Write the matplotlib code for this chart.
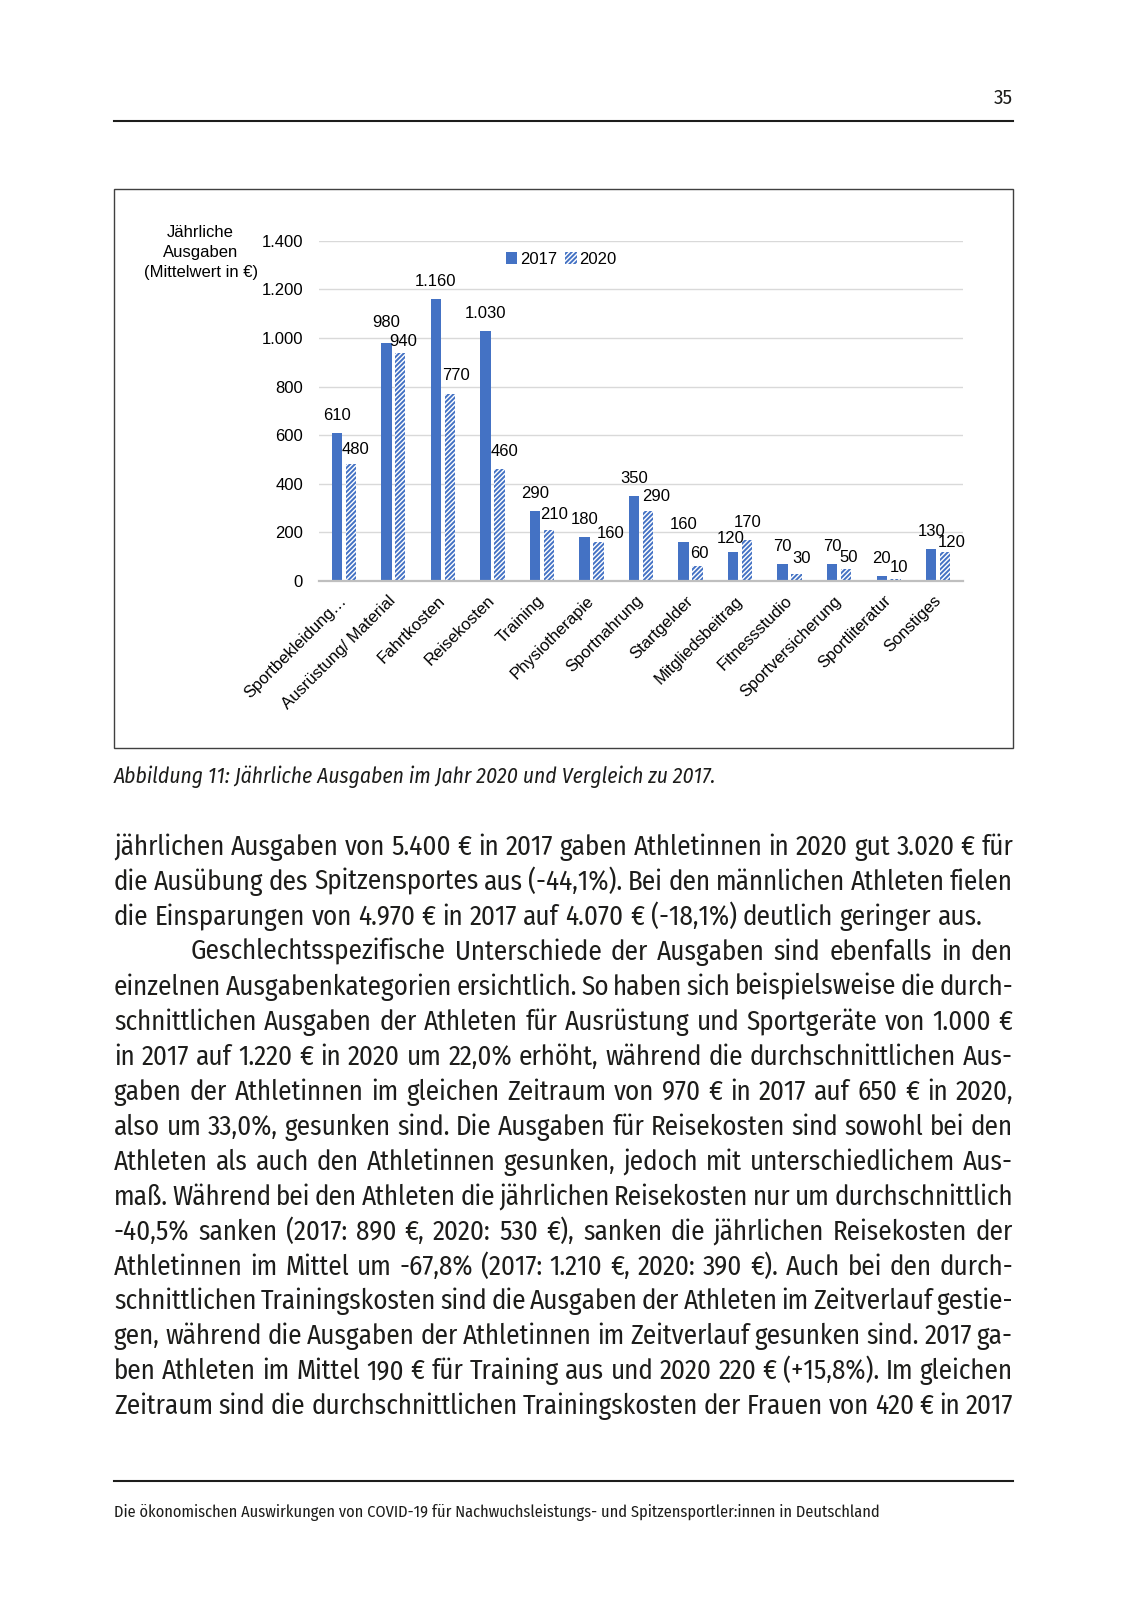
import matplotlib
matplotlib.use('Agg')
import matplotlib.pyplot as plt
import matplotlib.font_manager as fm
from matplotlib.patches import Rectangle, Patch
from matplotlib.lines import Line2D
import numpy as np

# --- data -------------------------------------------------------------
categories = ['Sportbekleidung…', 'Ausrüstung/ Material', 'Fahrtkosten', 'Reisekosten',
              'Training', 'Physiotherapie', 'Sportnahrung', 'Startgelder',
              'Mitgliedsbeitrag', 'Fitnessstudio', 'Sportversicherung',
              'Sportliteratur', 'Sonstiges']
v2017 = [610, 980, 1160, 1030, 290, 180, 350, 160, 120, 70, 70, 20, 130]
v2020 = [480, 940, 770, 460, 210, 160, 290, 60, 170, 30, 50, 10, 120]
yticks = [0, 200, 400, 600, 800, 1000, 1200, 1400]
series_names = ['2017', '2020']
ytitle = 'Jährliche\nAusgaben\n(Mittelwert in €)'

page_no = '35'
caption = 'Abbildung 11: Jährliche Ausgaben im Jahr 2020 und Vergleich zu 2017.'
footer = ('Die ökonomischen Auswirkungen von COVID-19 für Nachwuchsleistungs- '
          'und Spitzensportler:innen in Deutschland')
body = [
    'jährlichen Ausgaben von 5.400 € in 2017 gaben Athletinnen in 2020 gut 3.020 € für',
    'die Ausübung des Spitzensportes aus (-44,1%). Bei den männlichen Athleten fielen',
    'die Einsparungen von 4.970 € in 2017 auf 4.070 € (-18,1%) deutlich geringer aus.',
    'Geschlechtsspezifische Unterschiede der Ausgaben sind ebenfalls in den',
    'einzelnen Ausgabenkategorien ersichtlich. So haben sich beispielsweise die durch-',
    'schnittlichen Ausgaben der Athleten für Ausrüstung und Sportgeräte von 1.000 €',
    'in 2017 auf 1.220 € in 2020 um 22,0% erhöht, während die durchschnittlichen Aus-',
    'gaben der Athletinnen im gleichen Zeitraum von 970 € in 2017 auf 650 € in 2020,',
    'also um 33,0%, gesunken sind. Die Ausgaben für Reisekosten sind sowohl bei den',
    'Athleten als auch den Athletinnen gesunken, jedoch mit unterschiedlichem Aus-',
    'maß. Während bei den Athleten die jährlichen Reisekosten nur um durchschnittlich',
    '-40,5% sanken (2017: 890 €, 2020: 530 €), sanken die jährlichen Reisekosten der',
    'Athletinnen im Mittel um -67,8% (2017: 1.210 €, 2020: 390 €). Auch bei den durch-',
    'schnittlichen Trainingskosten sind die Ausgaben der Athleten im Zeitverlauf gestie-',
    'gen, während die Ausgaben der Athletinnen im Zeitverlauf gesunken sind. 2017 ga-',
    'ben Athleten im Mittel 190 € für Training aus und 2020 220 € (+15,8%). Im gleichen',
    'Zeitraum sind die durchschnittlichen Trainingskosten der Frauen von 420 € in 2017',
]
par_end = {2}        # last line of a paragraph -> not justified
par_start = {3}      # first line of a paragraph -> indented

# --- page setup -------------------------------------------------------
W, H = 1128, 1601
fig = plt.figure(figsize=(W / 100, H / 100), dpi=100)
fig.patch.set_facecolor('white')
r = fig.canvas.get_renderer()

names = {f.name for f in fm.fontManager.ttflist}


def pick(cands):
    for c in cands:
        if c in names:
            return c
    return 'DejaVu Sans'


body_font = pick(['Fira Sans Condensed', 'Fira Sans', 'Liberation Sans Narrow',
                  'Liberation Sans'])
chart_font = pick(['Liberation Sans', 'Arimo'])
ink = '#1d1d1b'
blue = '#4472C4'
hatch = '///////'


def fx(px):
    return px / W


def fy(py):
    return 1 - py / H


def measure(s, **kw):
    t = fig.text(0, 0, s, **kw)
    w = t.get_window_extent(renderer=r).width
    t.remove()
    return w


def fit(s, width, base=20, **kw):
    return base * width / measure(s, fontsize=base, **kw)


# rules, page number
for y in (121.5, 1481):
    fig.add_artist(Line2D([fx(114), fx(1013)], [fy(y), fy(y)], color=ink, lw=1.5,
                          transform=fig.transFigure))
fig.text(fx(1013), fy(103.5), page_no, ha='right', va='baseline', fontsize=15,
         family=body_font, color=ink)

# chart frame
fig.add_artist(Rectangle((fx(114), fy(748)), fx(1013) - fx(114), fy(189) - fy(748),
                         transform=fig.transFigure, fill=False, ec='#404040', lw=1.0))

# --- chart ------------------------------------------------------------
plt.rcParams['hatch.linewidth'] = 1.4
ax = fig.add_axes([fx(319), fy(581), fx(963) - fx(319), (581 - 240.7) / H])
x = np.arange(len(categories))
bw = 0.21
ax.bar(x - 0.14, v2017, bw, color=blue, lw=0, label=series_names[0])
ax.bar(x + 0.14, v2020, bw, color='white', edgecolor=blue, hatch=hatch, lw=0,
       label=series_names[1])

ax.set_xlim(-0.5, len(categories) - 0.5)
ax.set_ylim(0, 1400)
ax.set_yticks(yticks)
ax.set_yticklabels([f'{v:,}'.replace(',', '.') for v in yticks], family=chart_font,
                   fontsize=12)
ax.yaxis.grid(True, color='#D9D9D9', lw=1.0)
ax.set_axisbelow(True)
for s in ('top', 'right', 'left'):
    ax.spines[s].set_visible(False)
ax.spines['bottom'].set_color('#BFBFBF')
ax.spines['bottom'].set_linewidth(1.6)
ax.tick_params(axis='y', length=0, pad=11.5)
ax.tick_params(axis='x', length=0, pad=12.5)
ax.set_xticks(x)
ax.set_xticklabels(categories, rotation=45, ha='right', va='center',
                   rotation_mode='anchor', family=chart_font, fontsize=12)

# value labels (offsets in px above bar top)
off17 = {1: (0, 20), 8: (-2, 13)}
off20 = {1: (3, 11), 2: (6, 18), 3: (5, 18), 5: (12, 9), 6: (8, 14), 7: (1.5, 13),
         8: (1, 17), 10: (2.5, 11), 11: (3, 11.5), 12: (7, 9)}
for i in range(len(categories)):
    for vals, shift, offs, default in ((v2017, -0.14, off17, (0, 17.5)),
                                       (v2020, 0.14, off20, (5, 15))):
        dx, dy = offs.get(i, default)
        ax.annotate(f'{vals[i]:,}'.replace(',', '.'), (x[i] + shift, vals[i]),
                    xytext=(dx * 0.72, dy * 0.72), textcoords='offset points',
                    ha='center', va='center', fontsize=12, family=chart_font)

handles = [Patch(facecolor=blue, lw=0),
           Patch(facecolor='white', edgecolor=blue, hatch=hatch, lw=0)]
ax.legend(handles, series_names, loc='center', bbox_to_anchor=(0.376, 0.946), ncol=2,
          frameon=False, handlelength=0.7, handleheight=0.7, handletextpad=0.15,
          columnspacing=0.5, borderpad=0, borderaxespad=0,
          prop={'family': chart_font, 'size': 12})

fig.text(fx(200.7), fy(252.5), ytitle, ha='center', va='center', fontsize=12,
         family=chart_font, linespacing=1.4)

# --- caption, body, footer --------------------------------------------
cap_size = fit(caption, 601, family=body_font, style='italic')
fig.text(fx(114), fy(783), caption, ha='left', va='baseline', fontsize=cap_size,
         family=body_font, style='italic', color=ink)

foot_size = fit(footer, 763, family=body_font)
fig.text(fx(114), fy(1517), footer, ha='left', va='baseline', fontsize=foot_size,
         family=body_font, color=ink)

body_size = fit(body[2], 870, family=body_font)
left, right = 114, 1013
space_w = measure('a a', fontsize=body_size, family=body_font) - \
    measure('aa', fontsize=body_size, family=body_font)
for n, line in enumerate(body):
    base_y = 855 + n * 34.96
    x0 = left + (77 if n in par_start else 0)
    words = line.split()
    widths = [measure(w, fontsize=body_size, family=body_font) for w in words]
    if n in par_end or len(words) < 2:
        gap = space_w
    else:
        gap = (right - x0 - sum(widths)) / (len(words) - 1)
    xpos = x0
    for w, wd in zip(words, widths):
        fig.text(fx(xpos), fy(base_y), w, ha='left', va='baseline', fontsize=body_size,
                 family=body_font, color=ink)
        xpos += wd + gap

fig.savefig('out.png', dpi=100)
